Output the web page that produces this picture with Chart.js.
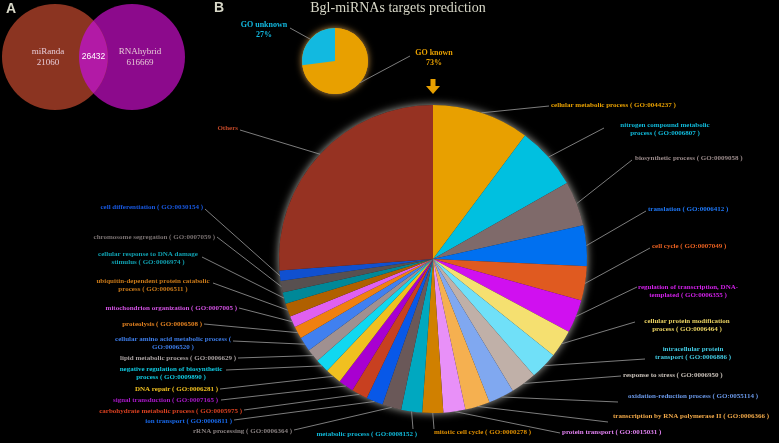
<!DOCTYPE html>
<html lang="en">
<head>
    <meta charset="UTF-8">
    <title>Bgl-miRNAs targets prediction</title>
    <script src="https://cdn.jsdelivr.net/npm/chart.js"></script>
    <style>
        body {
            margin: 0;
            background: #000;
            width: 779px;
            height: 443px;
            overflow: hidden;
            position: relative;
        }
        canvas {
            position: absolute;
        }
    </style>
</head>
<body>
    <canvas id="pie" width="779" height="443" style="left:0;top:0"></canvas>
    <canvas id="venn" width="200" height="114" style="left:0;top:0"></canvas>
    <canvas id="go" width="240" height="90" style="left:230px;top:15px"></canvas>

    <script>
        // ---- data ----
        const vennSets = ["miRanda", "RNAhybrid"];
        const vennCounts = [21060, 616669];
        const vennShared = 26432;

        const goLabels = ["GO known", "GO unknown"];
        const goShares = [73, 27];

        const termNames = [
            "cellular metabolic process", "nitrogen compound metabolic process", "biosynthetic process",
            "translation", "cell cycle", "regulation of transcription, DNA-templated",
            "cellular protein modification process", "intracellular protein transport", "response to stress",
            "oxidation-reduction process", "transcription by RNA polymerase II", "protein transport",
            "mitotic cell cycle", "metabolic process", "rRNA processing", "ion transport",
            "carbohydrate metabolic process", "signal transduction", "DNA repair",
            "negative regulation of biosynthetic process", "lipid metabolic process",
            "cellular amino acid metabolic process", "proteolysis", "mitochondrion organization",
            "ubiquitin-dependent protein catabolic process", "cellular response to DNA damage stimulus",
            "chromosome segregation", "cell differentiation", "Others"
        ];
        const termIds = [
            "0044237", "0006807", "0009058", "0006412", "0007049", "0006355", "0006464", "0006886",
            "0006950", "0055114", "0006366", "0015031", "0000278", "0008152", "0006364", "0006811",
            "0005975", "0007165", "0006281", "0009890", "0006629", "0006520", "0006508", "0007005",
            "0006511", "0006974", "0007059", "0030154", ""
        ];
        const termShares = [
            10.2, 6.6, 4.7, 4.25, 3.6, 3.5, 2.9, 2.9, 2.7, 2.7, 2.6, 2.3, 2.2, 2.2, 2.0, 1.75,
            1.7, 1.6, 1.7, 1.45, 1.4, 1.5, 1.3, 1.2, 1.4, 1.2, 1.2, 1.1, 26.2
        ];

        // ---- styles ----
        const sliceColors = [
            "#e8a000", "#00c0e0", "#7f6a6a", "#0070f0", "#e05a20", "#d010f0", "#f5e070", "#70e0f8",
            "#c0b0a8", "#80a8f0", "#f5b050", "#e890f8", "#d08000", "#00a8c0", "#6a5858", "#0858e8",
            "#c84020", "#a800d0", "#f0c020", "#10d8f0", "#a09090", "#4080f0", "#f08010", "#e060f0",
            "#b06000", "#008898", "#585050", "#1050d0", "#963222"
        ];
        const textColors = [
            "#e8a000", "#10b8d8", "#9a8a8a", "#1e78f8", "#e86020", "#d020e8", "#e8d060", "#40c8e0",
            "#c8c0b8", "#6a98e8", "#f0a848", "#e080f0", "#e09000", "#10b8d8", "#888080", "#1868e8",
            "#d84020", "#a818c8", "#f0c020", "#10c8e0", "#a8a0a0", "#3c7ce8", "#e08020", "#d050e0",
            "#c87818", "#10a0b0", "#787070", "#1858e0", "#c04828"
        ];
        // text anchor (tx, ty), alignment, leader line end (ex, ey), optional line break
        const labelLayout = [
            { tx: 551, ty: 105, al: "left", ex: 549, ey: 106 },
            { tx: 665, ty: 125, al: "center", ex: 604, ey: 128, cut: "metabolic" },
            { tx: 635, ty: 158.5, al: "left", ex: 632, ey: 160 },
            { tx: 648, ty: 209, al: "left", ex: 646, ey: 211 },
            { tx: 652, ty: 246, al: "left", ex: 650, ey: 248 },
            { tx: 688, ty: 287, al: "center", ex: 637, ey: 287, cut: "DNA-" },
            { tx: 687, ty: 321, al: "center", ex: 635, ey: 322, cut: "modification" },
            { tx: 693, ty: 349.5, al: "center", ex: 645, ey: 359, cut: "protein" },
            { tx: 623, ty: 375, al: "left", ex: 621, ey: 376 },
            { tx: 628, ty: 396, al: "left", ex: 618, ey: 402 },
            { tx: 613, ty: 416, al: "left", ex: 608, ey: 422 },
            { tx: 562, ty: 432.5, al: "left", ex: 560, ey: 433 },
            { tx: 434, ty: 432.5, al: "left", ex: 434, ey: 429 },
            { tx: 417, ty: 434, al: "right", ex: 413, ey: 429 },
            { tx: 292, ty: 431, al: "right", ex: 294, ey: 430 },
            { tx: 232, ty: 421, al: "right", ex: 234, ey: 420 },
            { tx: 242, ty: 411.5, al: "right", ex: 244, ey: 410 },
            { tx: 218, ty: 400, al: "right", ex: 221, ey: 400 },
            { tx: 218, ty: 389, al: "right", ex: 220, ey: 389 },
            { tx: 171, ty: 369.5, al: "center", ex: 226, ey: 370, cut: "biosynthetic" },
            { tx: 236, ty: 358.5, al: "right", ex: 238, ey: 358 },
            { tx: 173, ty: 339, al: "center", ex: 233, ey: 341, cut: "(" },
            { tx: 202, ty: 324, al: "right", ex: 204, ey: 324 },
            { tx: 237, ty: 308, al: "right", ex: 239, ey: 308 },
            { tx: 153, ty: 281, al: "center", ex: 213, ey: 283, cut: "catabolic" },
            { tx: 148, ty: 254.5, al: "center", ex: 202, ey: 257, cut: "damage" },
            { tx: 215, ty: 237, al: "right", ex: 217, ey: 237 },
            { tx: 203, ty: 207.5, al: "right", ex: 205, ey: 209 },
            { tx: 238, ty: 128.5, al: "right", ex: 240, ey: 130 }
        ];
        const lineColor = "#8a8a8a";
        const labelFont = 'bold 7px "Liberation Serif"';

        function labelText(i) {
            return termIds[i] ? termNames[i] + " ( GO:" + termIds[i] + " )" : termNames[i];
        }

        function splitLabel(text, cut) {
            if (!cut) return [text];
            const k = text.indexOf(cut) + cut.length;
            return [text.slice(0, k).trim(), text.slice(k).trim()];
        }

        // glow behind the big pie
        const pieGlow = {
            id: "pieGlow",
            beforeDatasetsDraw(chart) {
                const arc = chart.getDatasetMeta(0).data[0];
                const ctx = chart.ctx;
                ctx.save();
                ctx.shadowColor = "rgba(235,235,225,0.75)";
                ctx.shadowBlur = 9;
                ctx.fillStyle = "#222";
                ctx.beginPath();
                ctx.arc(arc.x, arc.y, arc.outerRadius, 0, Math.PI * 2);
                ctx.fill();
                ctx.restore();
            }
        };

        const pieLabels = {
            id: "pieLabels",
            afterDatasetsDraw(chart) {
                const ctx = chart.ctx;
                const arcs = chart.getDatasetMeta(0).data;
                ctx.save();
                ctx.lineWidth = 0.9;
                ctx.strokeStyle = lineColor;
                arcs.forEach((arc, i) => {
                    const lay = labelLayout[i];
                    const mid = (arc.startAngle + arc.endAngle) / 2;
                    const sx = arc.x + Math.cos(mid) * arc.outerRadius;
                    const sy = arc.y + Math.sin(mid) * arc.outerRadius;
                    ctx.beginPath();
                    ctx.moveTo(sx, sy);
                    ctx.lineTo(lay.ex, lay.ey);
                    ctx.stroke();

                    ctx.font = labelFont;
                    ctx.fillStyle = textColors[i];
                    ctx.textAlign = lay.al;
                    ctx.textBaseline = "middle";
                    splitLabel(labelText(i), lay.cut).forEach((line, j) => {
                        ctx.fillText(line, lay.tx, lay.ty + j * 8);
                    });
                });

                // title and panel letters
                ctx.fillStyle = "#d8d8c8";
                ctx.textAlign = "center";
                ctx.font = '14px "Liberation Serif"';
                ctx.fillText("Bgl-miRNAs targets prediction", 398, 8);
                ctx.font = 'bold 14px "Liberation Sans"';
                ctx.textAlign = "left";
                ctx.fillText("A", 6, 9);
                ctx.fillText("B", 214, 8);

                // arrow from the small pie down to the big one
                ctx.fillStyle = "#e8a000";
                ctx.beginPath();
                ctx.moveTo(430.5, 79);
                ctx.lineTo(435.5, 79);
                ctx.lineTo(435.5, 86);
                ctx.lineTo(440, 86);
                ctx.lineTo(433, 94);
                ctx.lineTo(426, 86);
                ctx.lineTo(430.5, 86);
                ctx.closePath();
                ctx.fill();
                ctx.restore();
            }
        };

        new Chart(document.getElementById("pie"), {
            type: "pie",
            data: {
                labels: termNames,
                datasets: [{
                    data: termShares,
                    backgroundColor: sliceColors,
                    borderWidth: 0
                }]
            },
            options: {
                responsive: false,
                animation: false,
                devicePixelRatio: 1,
                layout: { padding: { left: 279, right: 192, top: 105, bottom: 30 } },
                plugins: { legend: { display: false }, tooltip: { enabled: false } }
            },
            plugins: [pieGlow, pieLabels]
        });

        // ---- small GO pie ----
        const goTextColors = ["#e8a000", "#12b9e0"];
        const goLayout = [
            { tx: 204, ty: 38, ex: 180, ey: 41 },
            { tx: 34, ty: 10, ex: 60, ey: 13 }
        ];

        const goDecor = {
            id: "goDecor",
            beforeDatasetsDraw(chart) {
                const arc = chart.getDatasetMeta(0).data[0];
                const ctx = chart.ctx;
                ctx.save();
                ctx.shadowColor = "rgba(255,190,90,0.8)";
                ctx.shadowBlur = 7;
                ctx.fillStyle = "#e8a000";
                ctx.beginPath();
                ctx.arc(arc.x, arc.y, arc.outerRadius, 0, Math.PI * 2);
                ctx.fill();
                ctx.restore();
            },
            afterDatasetsDraw(chart) {
                const ctx = chart.ctx;
                ctx.save();
                ctx.lineWidth = 0.9;
                ctx.strokeStyle = lineColor;
                chart.getDatasetMeta(0).data.forEach((arc, i) => {
                    const lay = goLayout[i];
                    const mid = (arc.startAngle + arc.endAngle) / 2;
                    ctx.beginPath();
                    ctx.moveTo(arc.x + Math.cos(mid) * arc.outerRadius, arc.y + Math.sin(mid) * arc.outerRadius);
                    ctx.lineTo(lay.ex, lay.ey);
                    ctx.stroke();
                    ctx.font = 'bold 8px "Liberation Serif"';
                    ctx.fillStyle = goTextColors[i];
                    ctx.textAlign = "center";
                    ctx.textBaseline = "middle";
                    ctx.fillText(goLabels[i], lay.tx, lay.ty);
                    ctx.fillText(goShares[i] + "%", lay.tx, lay.ty + 10);
                });
                ctx.restore();
            }
        };

        new Chart(document.getElementById("go"), {
            type: "pie",
            data: {
                labels: goLabels,
                datasets: [{
                    data: goShares,
                    backgroundColor: ["#e8a000", "#12b9e0"],
                    borderWidth: 0
                }]
            },
            options: {
                responsive: false,
                animation: false,
                devicePixelRatio: 1,
                layout: { padding: { left: 72, right: 102, top: 13, bottom: 11 } },
                plugins: { legend: { display: false }, tooltip: { enabled: false } }
            },
            plugins: [goDecor]
        });

        // ---- Venn diagram (two bubbles) ----
        const vennColors = ["#8b3421", "#8c0a8c"];
        const vennOverlap = "#b21aa6";

        const vennDecor = {
            id: "vennDecor",
            afterDatasetsDraw(chart) {
                const a = chart.getDatasetMeta(0).data[0];
                const b = chart.getDatasetMeta(1).data[0];
                const ctx = chart.ctx;
                ctx.save();
                ctx.beginPath();
                ctx.arc(a.x, a.y, a.options.radius, 0, Math.PI * 2);
                ctx.clip();
                ctx.fillStyle = vennOverlap;
                ctx.beginPath();
                ctx.arc(b.x, b.y, b.options.radius, 0, Math.PI * 2);
                ctx.fill();
                ctx.restore();

                ctx.save();
                ctx.textAlign = "center";
                ctx.textBaseline = "middle";
                ctx.font = '9px "Liberation Serif"';
                ctx.fillStyle = "#e6cad6";
                ctx.fillText(vennSets[0], a.x - 7, a.y - 5);
                ctx.fillText(String(vennCounts[0]), a.x - 7, a.y + 6);
                ctx.fillText(vennSets[1], b.x + 8, b.y - 5);
                ctx.fillText(String(vennCounts[1]), b.x + 8, b.y + 6);
                ctx.font = '8.5px "Liberation Sans"';
                ctx.fillStyle = "#ffffff";
                ctx.fillText(String(vennShared), (a.x + b.x) / 2, a.y);
                ctx.restore();
            }
        };

        new Chart(document.getElementById("venn"), {
            type: "bubble",
            data: {
                datasets: vennSets.map((name, i) => ({
                    label: name,
                    data: [{ x: i, y: 0 }],
                    backgroundColor: vennColors[i],
                    borderWidth: 0,
                    radius: 53,
                    clip: false
                }))
            },
            options: {
                responsive: false,
                animation: false,
                devicePixelRatio: 1,
                layout: { padding: 0, autoPadding: false },
                scales: {
                    x: { type: "linear", display: false, min: -0.714, max: 1.883 },
                    y: { type: "linear", display: false, min: -1, max: 1 }
                },
                plugins: { legend: { display: false }, tooltip: { enabled: false } }
            },
            plugins: [vennDecor]
        });
    </script>
</body>
</html>
